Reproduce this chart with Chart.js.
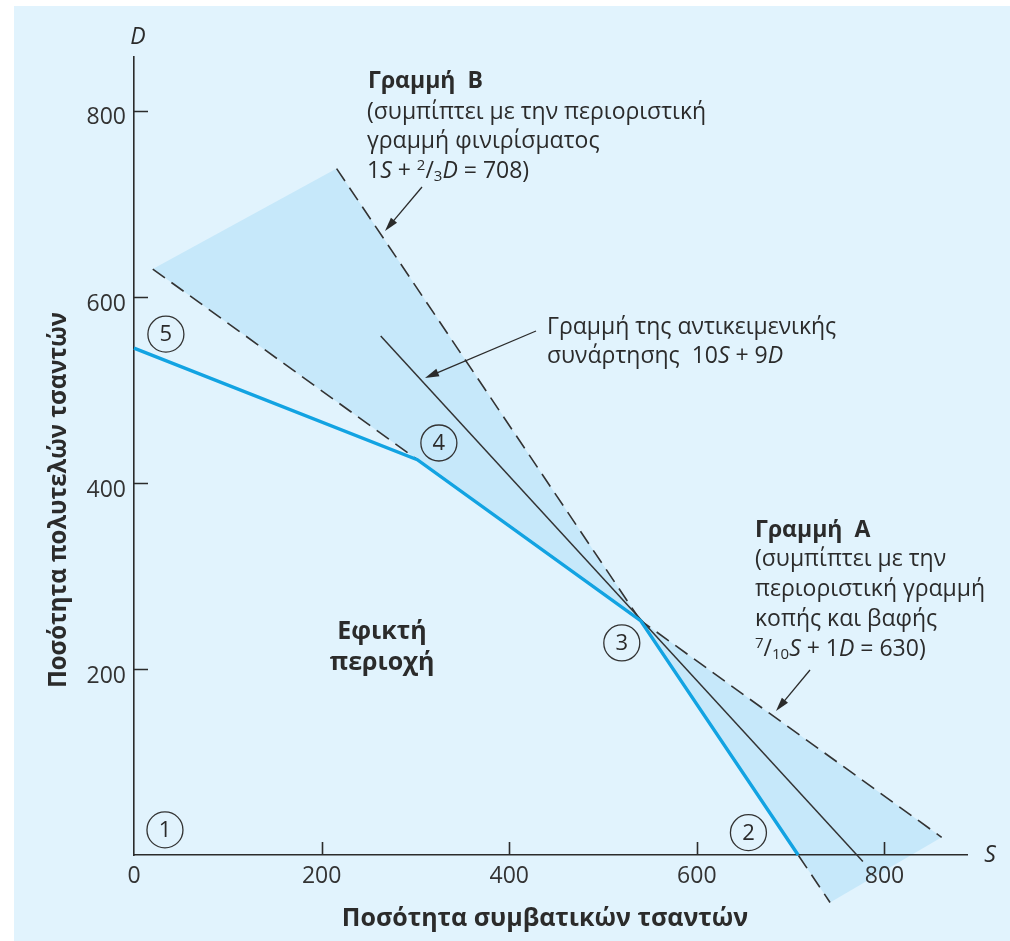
<!DOCTYPE html>
<html>
<head>
<meta charset="utf-8">
<script src="https://cdn.jsdelivr.net/npm/chart.js@4.4.1/dist/chart.umd.min.js"></script>
<style>
  html, body { margin: 0; padding: 0; background: #fff; }
  #wrap { width: 1010px; height: 941px; }
</style>
</head>
<body>
<div id="wrap"><canvas id="lpChart" width="1010" height="941"></canvas></div>
<script>
// S = conventional bags (x), D = deluxe bags (y)
const xTicks = [0, 200, 400, 600, 800];
const yTicks = [200, 400, 600, 800];

// blue boundary of the feasible region (corners 5, 4, 3, 2)
const feasibleS = [0, 302, 540, 708];
const feasibleD = [545, 425, 252, 0];

// line A: 7/10 S + 1D = 630 (dashed)
const lineAS = [20, 861];
const lineAD = [630, 19];

// line B: 1S + 2/3 D = 708 (dashed)
const lineBS = [216, 742];
const lineBD = [738, -51];

// objective function line 10S + 9D
const objS = [263, 777];
const objD = [558, -7];

// shaded wedges between line A and line B
const wedgeTopS = [20, 216, 540];
const wedgeTopD = [630, 738, 252];
const wedgeBotS = [540, 742, 861];
const wedgeBotD = [252, -51, 19];

// circled corner-point labels
const cornerIds = ["1", "2", "3", "4", "5"];
const cornerS = [33, 655, 520, 325, 34];
const cornerD = [27, 24, 228, 443, 560];

const pts = (xs, ys) => xs.map((x, i) => ({ x: x, y: ys[i] }));

const INK = "#2b2b2b";
const FONT = '"Open Sans", "Noto Sans", sans-serif';

// page background (white strip top/left, light blue panel) and the shaded wedges
const backgroundPlugin = {
  id: "panel",
  beforeDraw(chart) {
    const ctx = chart.ctx;
    ctx.save();
    ctx.fillStyle = "#ffffff";
    ctx.fillRect(0, 0, chart.width, chart.height);
    ctx.fillStyle = "#e1f3fd";
    ctx.fillRect(14, 6, chart.width - 14, chart.height - 6);
    chart.data.datasets.forEach((ds, i) => {
      if (!ds.wedge) return;
      const pts = chart.getDatasetMeta(i).data;
      ctx.fillStyle = ds.wedge;
      ctx.beginPath();
      pts.forEach((p, k) => (k ? ctx.lineTo(p.x, p.y) : ctx.moveTo(p.x, p.y)));
      ctx.closePath();
      ctx.fill();
    });
    ctx.restore();
  }
};

function drawRuns(ctx, x, y, parts) {
  parts.forEach(p => {
    ctx.font = p[1];
    ctx.fillText(p[0], x, y + (p[2] || 0));
    x += ctx.measureText(p[0]).width;
  });
}

function arrow(ctx, x1, y1, x2, y2) {
  const a = Math.atan2(y2 - y1, x2 - x1);
  const len = 14, half = 4;
  ctx.beginPath();
  ctx.moveTo(x1, y1);
  ctx.lineTo(x2 - Math.cos(a) * len * 0.8, y2 - Math.sin(a) * len * 0.8);
  ctx.stroke();
  ctx.beginPath();
  ctx.moveTo(x2, y2);
  ctx.lineTo(x2 - Math.cos(a) * len - Math.sin(a) * half, y2 - Math.sin(a) * len + Math.cos(a) * half);
  ctx.lineTo(x2 - Math.cos(a) * len + Math.sin(a) * half, y2 - Math.sin(a) * len - Math.cos(a) * half);
  ctx.closePath();
  ctx.fill();
}

const notesPlugin = {
  id: "notes",
  afterDraw(chart) {
    const ctx = chart.ctx;
    const xs = chart.scales.x, ys = chart.scales.y;
    const area = chart.chartArea;
    const R = "23px " + FONT, I = "italic 23px " + FONT, B = "bold 23px " + FONT;
    const SM = "15px " + FONT;
    ctx.save();
    ctx.fillStyle = INK;
    ctx.strokeStyle = INK;

    // inward tick marks
    ctx.lineWidth = 1.6;
    ctx.beginPath();
    xTicks.forEach(v => {
      if (v === 0) return;
      const px = Math.round(xs.getPixelForValue(v)) + 0.5;
      ctx.moveTo(px, area.bottom);
      ctx.lineTo(px, area.bottom - 13);
    });
    yTicks.forEach(v => {
      const py = Math.round(ys.getPixelForValue(v)) + 0.5;
      ctx.moveTo(area.left, py);
      ctx.lineTo(area.left + 14, py);
    });
    ctx.stroke();

    // axis letters
    ctx.font = "italic 23px " + FONT;
    ctx.textAlign = "center";
    ctx.textBaseline = "middle";
    ctx.fillText("D", area.left + 4, 37);
    ctx.fillText("S", area.right + 23, area.bottom);

    // axis titles
    ctx.font = "bold 25px " + FONT;
    ctx.textBaseline = "alphabetic";
    ctx.fillText("Ποσότητα συμβατικών τσαντών", 545, 926, 412);
    ctx.save();
    ctx.translate(66, 500);
    ctx.rotate(-Math.PI / 2);
    ctx.fillText("Ποσότητα πολυτελών τσαντών", 0, 0, 376);
    ctx.restore();

    // numbers inside the corner circles
    ctx.font = "22px " + FONT;
    ctx.textBaseline = "middle";
    chart.getDatasetMeta(0).data.forEach((p, k) => {
      ctx.fillText(cornerIds[k], p.x, p.y + 1);
    });

    // feasible region label
    ctx.font = "bold 25px " + FONT;
    ctx.textBaseline = "alphabetic";
    ctx.fillText("Εφικτή", 382, 639);
    ctx.fillText("περιοχή", 382, 670);

    // line B note
    ctx.textAlign = "left";
    drawRuns(ctx, 368, 88, [["Γραμμή  B", B]]);
    drawRuns(ctx, 367, 119, [["(συμπίπτει με την περιοριστική", R]]);
    drawRuns(ctx, 367, 148, [["γραμμή φινιρίσματος", R]]);
    drawRuns(ctx, 367, 178, [["1", R], ["S", I], [" + ", R], ["2", SM, -8], ["/", R], ["3", SM, 3], ["D", I], [" = 708)", R]]);

    // objective note
    drawRuns(ctx, 547, 334, [["Γραμμή της αντικειμενικής", R]]);
    drawRuns(ctx, 547, 363, [["συνάρτησης  10", R], ["S", I], [" + 9", R], ["D", I]]);

    // line A note
    drawRuns(ctx, 755, 537, [["Γραμμή  A", B]]);
    drawRuns(ctx, 755, 566, [["(συμπίπτει με την", R]]);
    drawRuns(ctx, 755, 596, [["περιοριστική γραμμή", R]]);
    drawRuns(ctx, 755, 626, [["κοπής και βαφής", R]]);
    drawRuns(ctx, 755, 656, [["7", SM, -8], ["/", R], ["10", SM, 3], ["S", I], [" + 1", R], ["D", I], [" = 630)", R]]);

    // pointer arrows
    ctx.lineWidth = 1.3;
    arrow(ctx, 422, 187, 385, 231);
    arrow(ctx, 536, 331, 425, 378);
    arrow(ctx, 810, 670, 776, 711);

    ctx.restore();
  }
};

const lineStyle = { showLine: true, pointRadius: 0, pointHoverRadius: 0, fill: false, tension: 0, clip: false };

new Chart(document.getElementById("lpChart").getContext("2d"), {
  type: "scatter",
  data: {
    datasets: [
      {
        label: "corners",
        data: pts(cornerS, cornerD),
        showLine: false,
        pointRadius: 18,
        pointHoverRadius: 18,
        pointBorderColor: "#333",
        pointBorderWidth: 1.3,
        pointBackgroundColor: "rgba(0,0,0,0)",
        clip: false
      },
      Object.assign({ label: "feasible", data: pts(feasibleS, feasibleD), borderColor: "#12a3e2", borderWidth: 3.4 }, lineStyle),
      Object.assign({ label: "objective", data: pts(objS, objD), borderColor: "#333", borderWidth: 1.5 }, lineStyle),
      Object.assign({ label: "lineA", data: pts(lineAS, lineAD), borderColor: "#333", borderWidth: 1.6, borderDash: [15, 8] }, lineStyle),
      Object.assign({ label: "lineB", data: pts(lineBS, lineBD), borderColor: "#333", borderWidth: 1.6, borderDash: [15, 8] }, lineStyle),
      { label: "wedgeTop", data: pts(wedgeTopS, wedgeTopD), showLine: false, pointRadius: 0, wedge: "#c6e8fa", clip: false },
      { label: "wedgeBot", data: pts(wedgeBotS, wedgeBotD), showLine: false, pointRadius: 0, wedge: "#c6e8fa", clip: false }
    ]
  },
  options: {
    responsive: false,
    animation: false,
    events: [],
    layout: { padding: { left: 0, top: 57, right: 43, bottom: 0 } },
    plugins: { legend: { display: false }, tooltip: { enabled: false } },
    scales: {
      x: {
        type: "linear",
        min: 0,
        max: 888,
        afterFit: s => { s.height = 86; },
        afterBuildTicks: s => { s.ticks = xTicks.map(v => ({ value: v })); },
        grid: { display: false, drawTicks: false },
        border: { display: true, color: INK, width: 1.6 },
        ticks: { color: "#333", padding: 8, font: { family: FONT, size: 23 } }
      },
      y: {
        type: "linear",
        min: 0,
        max: 858,
        afterFit: s => { s.width = 134; },
        afterBuildTicks: s => { s.ticks = yTicks.map(v => ({ value: v })); },
        grid: { display: false, drawTicks: false },
        border: { display: true, color: INK, width: 1.6 },
        ticks: { color: "#333", padding: 8, labelOffset: 7, font: { family: FONT, size: 23 } }
      }
    }
  },
  plugins: [backgroundPlugin, notesPlugin]
});
</script>
</body>
</html>
